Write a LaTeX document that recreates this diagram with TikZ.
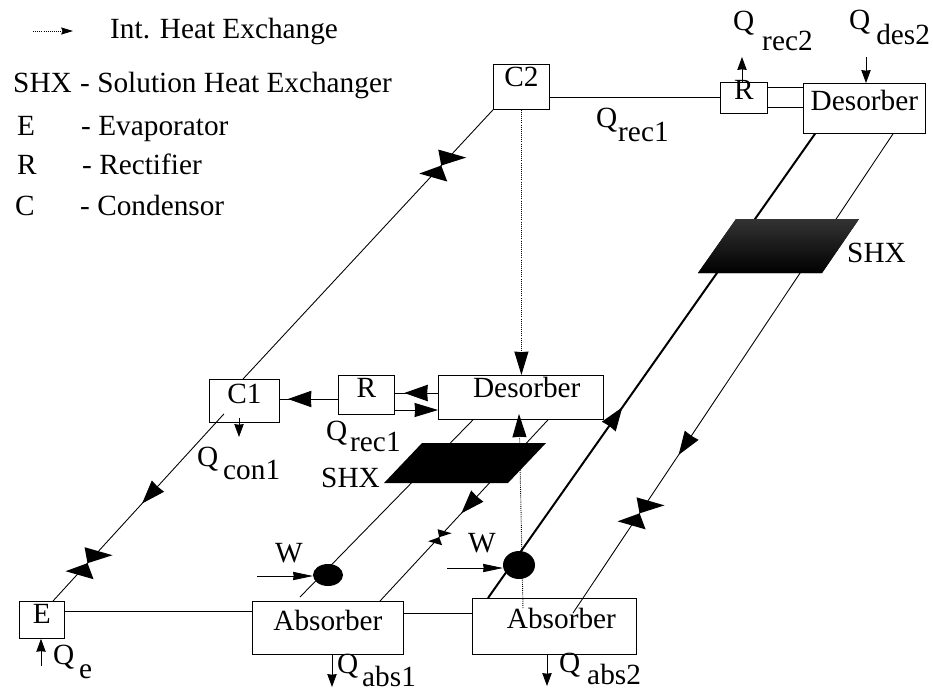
\documentclass[tikz,border=0pt]{standalone}
\usepackage{fontspec}
\setmainfont{Liberation Serif}
\usetikzlibrary{arrows.meta}
\usetikzlibrary{calc}
\usetikzlibrary{decorations.markings}
\newdimen\pxu
\pxu=0.8536pt
\newcommand{\qsub}[3]{\rlap{Q}\hspace{#1\pxu}\raisebox{-#2\pxu}{#3}}
\tikzset{
	hxbox/.style={draw,line width=0.7pt,inner sep=0pt,anchor=north west,align=center},
	boxsize/.style n args={3}{minimum width=#1*0.03cm,text height=#2*0.8536pt,text depth=#3*0.8536pt},
	txt/.style={anchor=base west,inner sep=0pt},
	pipe/.style={line width=0.75pt},
	thickpipe/.style={line width=1.7pt},
	heatline/.style={line width=0.8pt,densely dotted},
	smalltip/.style={-{Stealth[length=11pt,width=8pt,inset=0.5pt]},line width=0.7pt},
	worktip/.style={-{Stealth[length=17pt,width=7pt,inset=0.5pt]},line width=0.7pt},
	bigtip/.style={-{Stealth[length=20pt,width=12pt,inset=0.5pt]}},
	midtip/.style={postaction={decorate,decoration={markings,mark=at position #1 with {\arrow{Stealth[length=20pt,width=14pt,inset=0.5pt]}}}}},
	valve/.pic={\fill (0,0) -- (-3,-16) -- (25,-8) -- cycle; \fill (0,0) -- (-22,8) -- (6,16) -- cycle;},
}

\begin{document}
\begin{tikzpicture}[x=0.03cm,y=-0.03cm,font=\fontsize{25}{25}\selectfont]
	\useasboundingbox (0,0) rectangle (933,693);

	% components
	\node[hxbox,boxsize={56}{22}{23}] (C2) at (493,64) {C2};
	\node[hxbox,boxsize={47}{17}{14}] (R2) at (720,82) {R};
	\node[hxbox,boxsize={122}{27}{23}] (DesB) at (803,83) {Desorber};
	\node[hxbox,boxsize={70}{24}{19}] (C1) at (209,379) {C1};
	\node[hxbox,boxsize={56}{22}{17}] (R1) at (338,375) {R};
	\node[hxbox,boxsize={165}{22}{22}] (DesA) at (438,375) {\makebox[0pt]{\hspace{10pt}Desorber}};
	\node[hxbox,boxsize={45}{22}{15}] (E) at (19,601) {E};
	\node[hxbox,boxsize={151}{29}{24}] (AbsA) at (252,601) {Absorber};
	\node[hxbox,boxsize={164}{30}{26}] (AbsB) at (472,598) {\makebox[0pt]{\hspace{12pt}Absorber}};

	% solution and refrigerant lines
	\draw[pipe] (C2.south west) -- pic[pos=0.207]{valve} ($(C1.north west)+(34,0)$);
	\draw[pipe,midtip=0.479] ($(C1.south west)+(15,-9)$) -- pic[pos=0.798]{valve} ($(E.north west)+(34,0)$);
	\draw[pipe] (C2.east |- R2.west) -- (R2.west);
	\draw[pipe] ($(R2.north east)+(0,5)$) -- ($(DesB.north west)+(0,4)$);
	\draw[pipe] ($(R2.north east)+(0,25)$) -- ($(DesB.north west)+(0,24)$);
	\draw[pipe,midtip=0.86] ($(R1.north west)+(0,24)$) -- ($(C1.north east)+(0,20)$);
	\draw[pipe,midtip=0.78] ($(DesA.north west)+(0,18)$) -- ($(R1.north east)+(0,18)$);
	\draw[pipe,bigtip] ($(R1.north east)+(0,35)$) -- ($(DesA.north west)+(0,35)$);
	\draw[thickpipe,midtip=0.411] ($(AbsB.north west)+(16,0)$) -- ($(DesB.south west)+(12,0)$);
	\draw[pipe,midtip=0.67] ($(DesB.south west)+(90,0)$) -- pic[pos=0.792]{valve} ($(AbsB.north west)+(101,15)$);
	\draw[pipe] ($(AbsA.north west)+(48,-4)$) -- ($(DesA.south west)+(35,0)$);
	\draw[pipe,midtip=0.516] ($(DesA.south west)+(110,0)$) -- pic[pos=0.648,scale=0.5]{valve} ($(AbsA.north west)+(128,0)$);
	\draw[pipe] ($(E.north east)+(0,10)$) -- ($(AbsA.north west)+(0,10)$);
	\draw[pipe] ($(AbsA.north east)+(0,12)$) -- ($(AbsB.north west)+(0,15)$);

	% internal heat exchange
	\draw[heatline,bigtip] (C2.south) -- (C2.south |- DesA.north);
	\draw[heatline,bigtip] ($(AbsB.north west)+(51,10)$) -- ($(DesA.south west)+(81,-6)$);

	% solution heat exchangers
	\fill[top color=black!80,bottom color=black] (736,219) -- (859,219) -- (822,273) -- (698,273) -- cycle;
	\fill (422,443) -- (546,443) -- (508,483) -- (384,483) -- cycle;

	% pumps
	\fill (328,575) ellipse (15 and 11);
	\fill (519,565) ellipse (16 and 14);
	\coordinate (PA) at (313,576);
	\coordinate (PB) at (503,568);
	\coordinate (WA) at (257,576);
	\coordinate (WB) at (447,568);
	\draw[worktip] (WA) -- (PA);
	\draw[worktip] (WB) -- (PB);

	% heat flows
	\coordinate (QrecB) at (742,57);
	\coordinate (QdesB) at (866,57);
	\coordinate (QconA) at (239,437);
	\coordinate (QabsA) at (332,687);
	\coordinate (QabsB) at (547,686);
	\coordinate (QevA) at (41,666);
	\draw[smalltip] (QrecB |- R2.north) -- (QrecB);
	\draw[smalltip] (QdesB) -- (QdesB |- DesB.north);
	\draw[smalltip] ($(C1.south west)+(30,-5)$) -- (QconA);
	\draw[smalltip] (QabsA |- AbsA.south) -- (QabsA);
	\draw[smalltip] (QabsB |- AbsB.south) -- (QabsB);
	\draw[smalltip] (QevA) -- (QevA |- E.south);

	% labels
	\node[txt] (lblA) at (733,30) {\qsub{29}{20}{rec2}};
	\node[txt] (lblB) at (849,29) {\qsub{27}{15}{des2}};
	\node[txt] (lblC) at (596,127) {\qsub{22}{14}{rec1}};
	\node[txt] (lblD) at (326,440) {\qsub{24}{11}{rec1}};
	\node[txt] (lblE) at (197,466) {\qsub{26}{13}{con1}};
	\node[txt] (lblF) at (53,664) {\qsub{26}{14}{e}};
	\node[txt] (lblG) at (337,673) {\qsub{25}{13}{abs1}};
	\node[txt] (lblH) at (559,672) {\qsub{28}{12}{abs2}};
	\node[txt] (shxB) at (847,262) {SHX};
	\node[txt] (shxA) at (321,487) {SHX};
	\node[txt] (wA) at (275,562) {W};
	\node[txt] (wB) at (468,552) {W};

	% legend
	\coordinate (keyA) at (33,31);
	\coordinate (keyB) at (73,31);
	\draw[heatline,-{Stealth[length=10pt,width=6pt,inset=1pt]}] (keyA) -- (keyB);
	\node[txt] (key0) at (110,38) {Int. Heat Exchange};
	\node[txt] (key1) at (13,92) {SHX};
	\node[txt] (val1) at (80,92) {- Solution Heat Exchanger};
	\node[txt] (key2) at (17,135) {E};
	\node[txt] (val2) at (81,135) {- Evaporator};
	\node[txt] (key3) at (17,174) {R};
	\node[txt] (val3) at (82,174) {- Rectifier};
	\node[txt] (key4) at (15,215) {C};
	\node[txt] (val4) at (80,215) {- Condensor};
\end{tikzpicture}
\end{document}
